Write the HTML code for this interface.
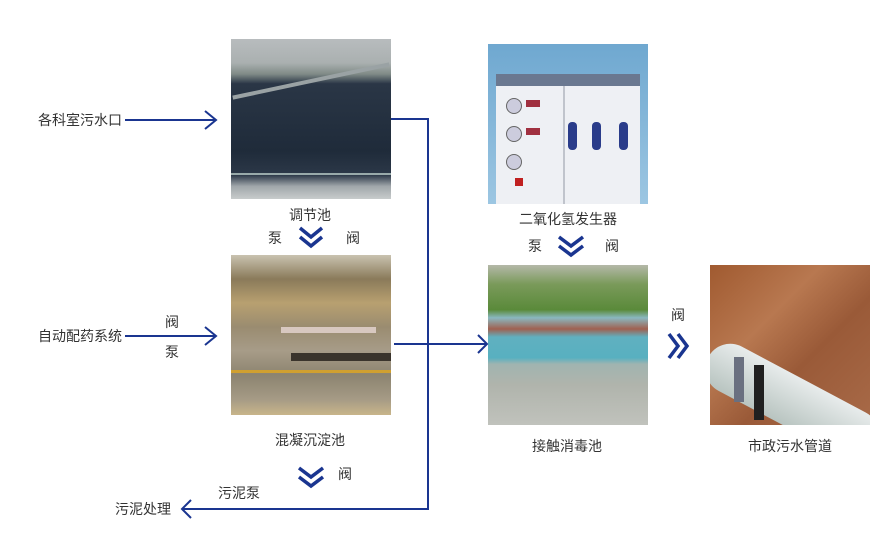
<!DOCTYPE html>
<html><head><meta charset="utf-8"><style>
body{margin:0;width:895px;height:542px;background:#fff;position:relative;overflow:hidden;font-family:"Liberation Sans","Noto Sans CJK SC",sans-serif;font-size:14px;color:#333}
.t{position:absolute;white-space:nowrap;line-height:16px}
.img{position:absolute;width:160px;height:160px;overflow:hidden}
</style></head><body>
<!-- image 1: regulating tank -->
<div class="img" style="left:231px;top:39px;background:linear-gradient(180deg,#b8bcbe 0,#aab0b0 15%,#7f8a86 22%,#2a3646 28%,#1f2b3a 70%,#2c3848 85%,#a0a6aa 92%,#c8cccc 100%)">
<div style="position:absolute;left:0;top:40px;width:160px;height:4px;background:#9aa2a4;transform:rotate(-12deg)"></div>
<div style="position:absolute;left:0;top:134px;width:160px;height:2px;background:#9aa"></div>
</div>
<!-- image 2 -->
<div class="img" style="left:231px;top:255px;background:linear-gradient(180deg,#c9c2b0 0,#8a7a5a 15%,#b8a070 30%,#9a8c70 45%,#a79c88 60%,#8c8470 75%,#a59a85 90%,#c8b58a 100%)">
<div style="position:absolute;left:50px;top:72px;width:95px;height:6px;background:#d8c8c0"></div>
<div style="position:absolute;left:60px;top:98px;width:100px;height:8px;background:#3a342c"></div>
<div style="position:absolute;left:0;top:115px;width:160px;height:3px;background:#d0a030"></div>
</div>
<!-- image 3 generator -->
<div class="img" style="left:488px;top:44px;background:linear-gradient(180deg,#6fa8d0,#9cc6e2)">
<div style="position:absolute;left:8px;top:30px;width:144px;height:130px;background:#eef0f4"></div>
<div style="position:absolute;left:8px;top:30px;width:144px;height:12px;background:#6a7890"></div>
<div style="position:absolute;left:75px;top:42px;width:2px;height:118px;background:#c0c4cc"></div>
<div style="position:absolute;left:80px;top:78px;width:9px;height:28px;background:#2a3c8a;border-radius:4px"></div>
<div style="position:absolute;left:104px;top:78px;width:9px;height:28px;background:#2a3c8a;border-radius:4px"></div>
<div style="position:absolute;left:131px;top:78px;width:9px;height:28px;background:#2a3c8a;border-radius:4px"></div>
<div style="position:absolute;left:18px;top:54px;width:14px;height:14px;border-radius:50%;background:#ccd;border:1px solid #666"></div>
<div style="position:absolute;left:18px;top:82px;width:14px;height:14px;border-radius:50%;background:#ccd;border:1px solid #666"></div>
<div style="position:absolute;left:18px;top:110px;width:14px;height:14px;border-radius:50%;background:#ccd;border:1px solid #666"></div>
<div style="position:absolute;left:38px;top:56px;width:14px;height:7px;background:#a03040"></div>
<div style="position:absolute;left:38px;top:84px;width:14px;height:7px;background:#a03040"></div>
<div style="position:absolute;left:27px;top:134px;width:8px;height:8px;background:#c02020"></div>
</div>
<!-- image 4 -->
<div class="img" style="left:488px;top:265px;background:linear-gradient(180deg,#b4b8a8 0,#7a9a5a 12%,#5a8a3a 28%,#8ab8c0 33%,#a06050 40%,#60b0c0 45%,#58b0c0 58%,#a0b4b0 62%,#b0b4ac 75%,#c0c2bc 100%)"></div>
<!-- image 5 -->
<div class="img" style="left:710px;top:265px;background:linear-gradient(135deg,#a05a30 0,#b87850 35%,#9a5a38 60%,#a86a48 100%)">
<div style="position:absolute;left:10px;top:70px;width:190px;height:50px;background:linear-gradient(180deg,#e8ecec,#b8c4c0);border-radius:25px;transform:rotate(28deg);transform-origin:0 0"></div>
<div style="position:absolute;left:24px;top:92px;width:10px;height:45px;background:#6a7080"></div>
<div style="position:absolute;left:44px;top:100px;width:10px;height:55px;background:#202020"></div>
</div>
<svg width="895" height="542" style="position:absolute;left:0;top:0" fill="none" stroke="#1a3590" stroke-width="2">
<path d="M125 120H216M205 111l11 9-11 9"/>
<path d="M125 336H216M205 327l11 9-11 9"/>
<path d="M391 119H428V509H182M191 500l-9 9 9 9"/>
<path d="M394 344H487M478 335l9 9-9 9"/>
<g stroke-width="3.5">
<path d="M300 228l11 9 11-9M300 237l11 9 11-9"/>
<path d="M299 468l12 9 12-9M299 477l12 9 12-9"/>
<path d="M559 237l12 9 12-9M559 246l12 9 12-9"/>
<path d="M669 334l9 12-9 12M678 334l9 12-9 12"/>
</g>
</svg>
<div class="t" style="left:38px;top:112px">各科室污水口</div>
<div class="t" style="left:38px;top:328px">自动配药系统</div>
<div class="t" style="left:165px;top:314px">阀</div>
<div class="t" style="left:165px;top:344px">泵</div>
<div class="t" style="left:289px;top:207px">调节池</div>
<div class="t" style="left:268px;top:230px">泵</div>
<div class="t" style="left:346px;top:230px">阀</div>
<div class="t" style="left:275px;top:432px">混凝沉淀池</div>
<div class="t" style="left:338px;top:466px">阀</div>
<div class="t" style="left:218px;top:485px">污泥泵</div>
<div class="t" style="left:115px;top:501px">污泥处理</div>
<div class="t" style="left:519px;top:211px">二氧化氢发生器</div>
<div class="t" style="left:528px;top:238px">泵</div>
<div class="t" style="left:605px;top:238px">阀</div>
<div class="t" style="left:532px;top:438px">接触消毒池</div>
<div class="t" style="left:748px;top:438px">市政污水管道</div>
<div class="t" style="left:671px;top:307px">阀</div>
</body></html>
